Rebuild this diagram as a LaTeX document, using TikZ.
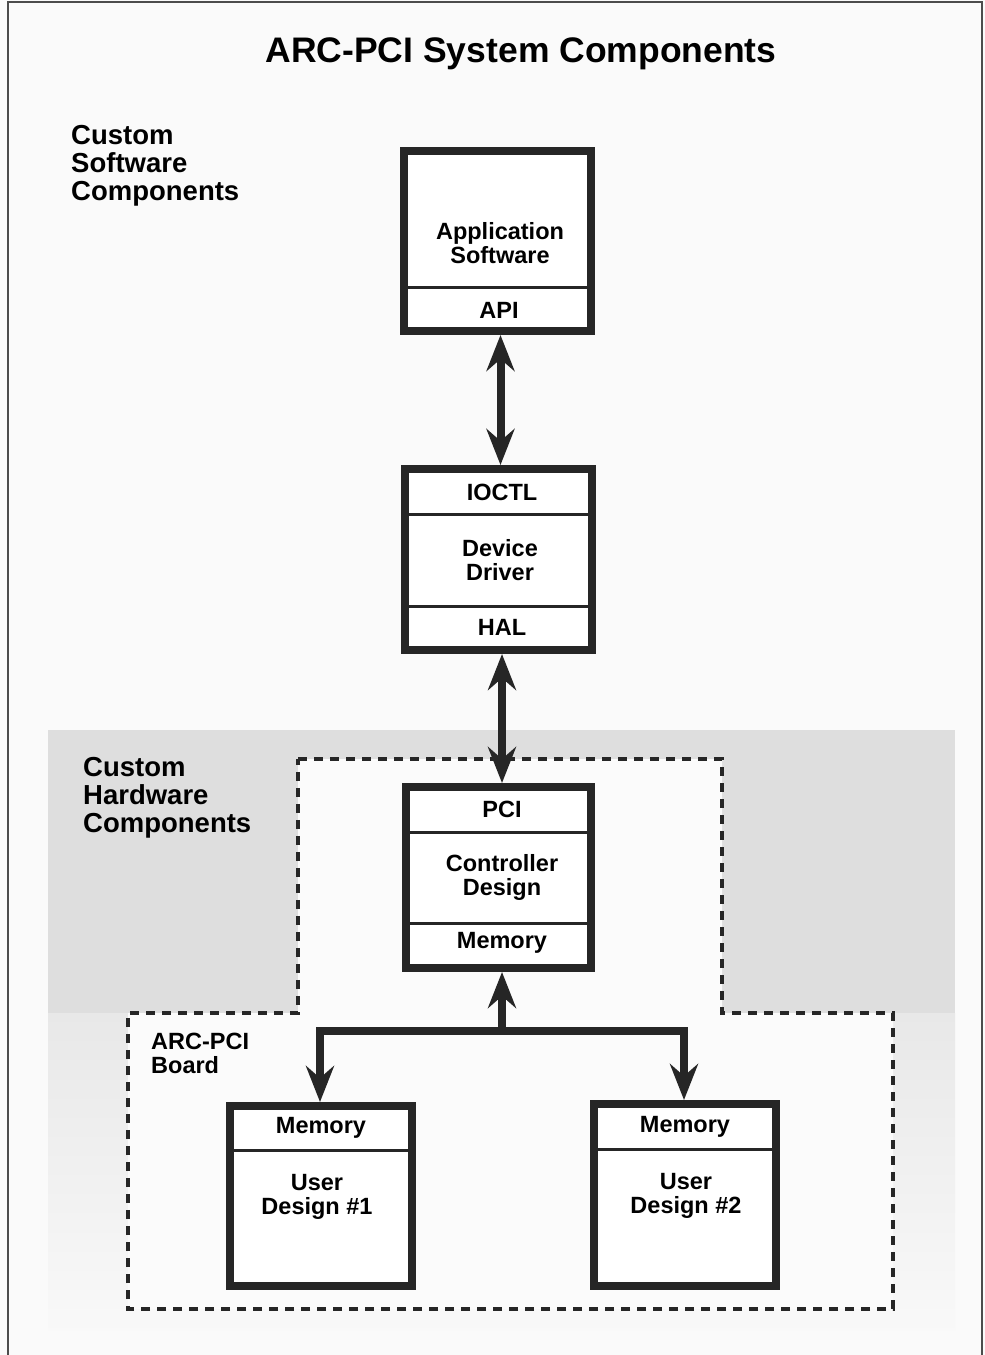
\documentclass[tikz,border=0pt]{standalone}
\usepackage{fontspec}
\setmainfont{Liberation Sans}
\usetikzlibrary{arrows.meta,calc}
\begin{document}
\begin{tikzpicture}[x=1pt,y=-1pt,
  box/.style={draw=black!85, line width=8pt, fill=white, inner sep=0pt, rectangle},
  divider/.style={line width=3pt, draw=black!85},
  lbl/.style={font=\fontsize{23.5}{24}\selectfont\bfseries, align=center, inner sep=0pt},
  side/.style={font=\fontsize{27.5}{28}\selectfont\bfseries, align=left, anchor=north west, inner sep=0pt},
  small/.style={font=\fontsize{23.5}{24}\selectfont\bfseries, align=left, anchor=north west, inner sep=0pt},
  conn/.style={line width=8pt, draw=black!85, line join=miter},
  tip/.style={-{Stealth[length=36pt,width=28pt,inset=12pt]}},
  bitip/.style={{Stealth[length=36pt,width=28pt,inset=12pt]}-{Stealth[length=36pt,width=28pt,inset=12pt]}},
  uptip/.style={{Stealth[length=36pt,width=28pt,inset=12pt]}-},
  region/.style={dash pattern=on 9pt off 7pt, line width=4pt, draw=black!85},
  frame/.style={line width=1.5pt, draw=black!70},
]
\useasboundingbox (0,0) rectangle (985,1355);
% background
\fill[gray!4] (0,0) rectangle (985,1355);
\draw[frame] (8,1355) -- (8,2) -- (982,2) -- (982,1355);
% shaded hardware area
\fill[gray!26] (48,730) rectangle (955,1013);
\shade[top color=gray!18, bottom color=gray!5] (48,1013) rectangle (955,1330);
% dashed hardware region
\path[fill=gray!3] (298,759) -- (722,759) -- (722,1013) -- (893,1013) -- (893,1309) -- (128,1309) -- (128,1013) -- (298,1013) -- cycle;
\draw[region] (298,759) -- (722,759) -- (722,1013) -- (893,1013) -- (893,1309) -- (128,1309) -- (128,1013) -- (298,1013) -- cycle;

% title
\node[font=\fontsize{35.5}{36}\selectfont\bfseries, anchor=base, inner sep=0pt] (title) at (521,62) {ARC-PCI System Components};

% side labels
\node[side] (sw) at (71,125) {Custom\\Software\\Components};
\node[side] (hw) at (83,757) {Custom\\Hardware\\Components};
\node[small] (board) at (151,1033) {ARC-PCI\\Board};

% box 1
\node[box, minimum width=187pt, minimum height=180pt] (b1) at (497.5,241) {};
\draw[divider] (b1.west |- 0,287) -- (b1.east |- 0,287);
\node[lbl] (t1) at (500,243) {Application\\Software};
\node[lbl] (t1b) at (499,310) {API};

% box 2
\node[box, minimum width=187pt, minimum height=181pt] (b2) at (498.5,559.5) {};
\draw[divider] (b2.west |- 0,514) -- (b2.east |- 0,514);
\draw[divider] (b2.west |- 0,606) -- (b2.east |- 0,606);
\node[lbl] (t2a) at (502,492) {IOCTL};
\node[lbl] (t2) at (500,560) {Device\\Driver};
\node[lbl] (t2b) at (502,627) {HAL};

% box 3
\node[box, minimum width=185pt, minimum height=181pt] (b3) at (498.5,877.5) {};
\draw[divider] (b3.west |- 0,832) -- (b3.east |- 0,832);
\draw[divider] (b3.west |- 0,923) -- (b3.east |- 0,923);
\node[lbl] (t3a) at (502,809) {PCI};
\node[lbl] (t3) at (502,877) {Controller\\Design};
\node[lbl] (t3b) at (502,943) {Memory};

% box 4
\node[box, minimum width=182pt, minimum height=180pt] (b4) at (321,1196) {};
\draw[divider] (b4.west |- 0,1150) -- (b4.east |- 0,1150);
\node[lbl] (t4a) at (321,1128) {Memory};
\node[lbl] (t4) at (317,1197) {User\\Design \#1};

% box 5
\node[box, minimum width=182pt, minimum height=182pt] (b5) at (685,1195) {};
\draw[divider] (b5.west |- 0,1149) -- (b5.east |- 0,1149);
\node[lbl] (t5a) at (685,1127) {Memory};
\node[lbl] (t5) at (686,1196) {User\\Design \#2};

% connectors
\draw[conn, bitip] ([xshift=3pt]b1.south) -- ([xshift=2pt]b2.north);
\draw[conn, bitip] ([xshift=3.5pt]b2.south) -- ([xshift=3.5pt]b3.north);
\coordinate (j) at (502,1031);
\draw[conn, uptip] ([xshift=3.5pt]b3.south) -- (j);
\draw[conn, tip] (j) -| ([xshift=-1pt]b4.north);
\draw[conn, tip] (j) -| ([xshift=-1pt]b5.north);
\end{tikzpicture}
\end{document}
